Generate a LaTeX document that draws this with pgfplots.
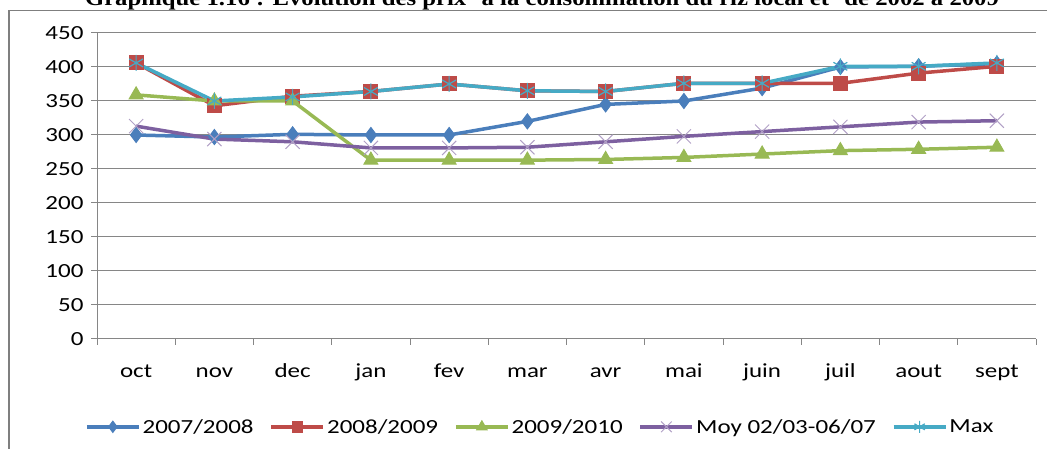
\documentclass[border=0pt]{standalone}
\usepackage{pgfplots}
\pgfplotsset{compat=1.18}
\usepackage{fontspec}
\setmainfont{Carlito}[FakeStretch=1.25]
\newfontfamily\titlefont{Liberation Serif}[FakeStretch=1.15]
\definecolor{cblue}{HTML}{4A7EBB}
\definecolor{cred}{HTML}{BE4B48}
\definecolor{cgreen}{HTML}{98B954}
\definecolor{cpurple}{HTML}{7D60A0}
\definecolor{ccyan}{HTML}{46AAC5}
\definecolor{cgrid}{HTML}{868686}
\definecolor{cframe}{HTML}{7F7F7F}
\begin{document}
\begin{tikzpicture}[x=1pt,y=1pt]
\begin{axis}[
  at={(97pt,110pt)}, anchor=south west,
  scale only axis, width=939pt, height=306pt,
  xmin=-0.5, xmax=11.5, ymin=0, ymax=450,
  axis lines*=left,
  axis line style={cgrid, line width=1pt},
  ymajorgrids, grid style={cgrid, line width=1pt},
  ytick={0,50,...,450},
  xtick={0,...,11},
  xticklabels={oct,nov,dec,jan,fev,mar,avr,mai,juin,juil,aout,sept},
  minor xtick={-0.5,0.5,...,11.5},
  major x tick style={draw=none},
  minor tick length=6pt, major tick length=6pt,
  tick align=outside,
  tick style={cgrid, line width=1pt},
  /pgf/number format/assume math mode=true,
  every tick label/.append style={font=\fontsize{20}{24}\selectfont, text=black},
  yticklabel style={xshift=-4pt},
  xticklabel style={anchor=base, yshift=-33pt},
  legend columns=5,
  legend style={at={(0.472,-0.287)}, anchor=center, draw=none, fill=none,
    font=\fontsize{20}{24}\selectfont,
    /tikz/every even column/.append style={column sep=14pt}},
  legend image code/.code={\draw[mark repeat=2,mark phase=2,
    every mark/.append style={scale=0.75}] plot coordinates {(0pt,0pt) (26pt,0pt) (52pt,0pt)};},
]
\addplot[cblue, line width=3.5pt, mark=diamond*, mark size=7.5pt,
  mark options={fill=cblue, draw=cblue, line width=1pt}] coordinates {
  (0,300) (1,297) (2,301) (3,300) (4,300) (5,320) (6,345) (7,350) (8,369) (9,400) (10,401) (11,405)};
\addlegendentry{2007/2008}
\addplot[cred, line width=3.5pt, mark=square*, mark size=7pt,
  mark options={fill=cred, draw=cred, line width=1pt}] coordinates {
  (0,406) (1,343) (2,357) (3,364) (4,375) (5,365) (6,364) (7,376) (8,376) (9,376) (10,391) (11,401)};
\addlegendentry{2008/2009}
\addplot[cgreen, line width=3.5pt, mark=triangle*, mark size=8pt,
  mark options={fill=cgreen, draw=cgreen, line width=1pt}] coordinates {
  (0,359) (1,350) (2,350) (3,263) (4,263) (5,263) (6,264) (7,267) (8,272) (9,277) (10,279) (11,282)};
\addlegendentry{2009/2010}
\addplot[cpurple, line width=3.5pt, mark=x, mark size=10pt,
  mark options={draw=cpurple!60, line width=1pt}] coordinates {
  (0,313) (1,294) (2,290) (3,281) (4,281) (5,282) (6,290) (7,298) (8,305) (9,312) (10,319) (11,321)};
\addlegendentry{Moy 02/03-06/07}
\addplot[ccyan, line width=3.5pt, mark=asterisk, mark size=8pt,
  mark options={draw=ccyan, line width=1.2pt}] coordinates {
  (0,406) (1,350) (2,356) (3,364) (4,375) (5,365) (6,364) (7,376) (8,376) (9,401) (10,401) (11,406)};
\addlegendentry{Max}
\end{axis}
\node[anchor=base, font=\titlefont\bfseries\fontsize{21.5}{25}\selectfont] at (542pt,443pt)
  {Graphique 1.16 : Evolution des prix\textsuperscript{1} à la consommation du riz local et\textsuperscript{2} de 2002 à 2009};
\draw[cframe, line width=1.5pt] (9pt,-20pt) -- (9pt,438.5pt) -- (1080pt,438.5pt);
\pgfresetboundingbox
\path[use as bounding box] (0,0) rectangle (1047pt,449pt);
\end{tikzpicture}
\end{document}
